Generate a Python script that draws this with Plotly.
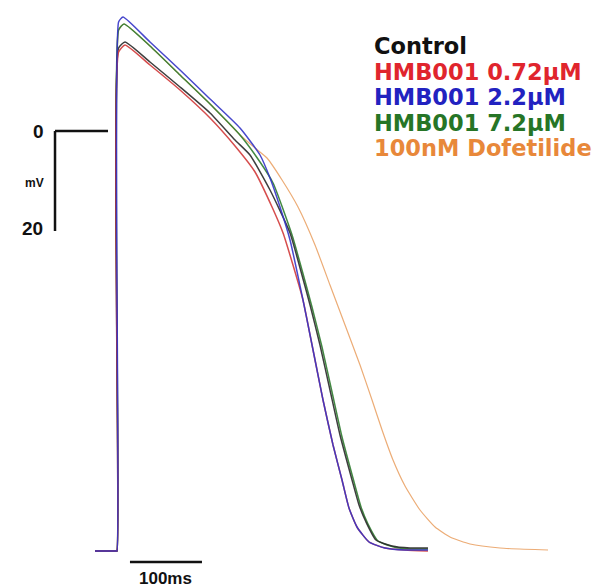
import plotly.graph_objects as go

# Action potential recordings: time (ms) vs membrane potential (mV)
ctrl_t = [-30.6, -1.4, 0, 2.2, 11.1, 45.8, 87.5, 129.2, 163.9, 184.7, 212.5, 240.3, 254.2, 268.1, 281.9,
          295.8, 309.7, 326.4, 336.1, 345.8, 359.7, 381.9, 406.9, 431.9]
ctrl_v = [-84, -84, -84, 16.6, 17.8, 13.8, 8.8, 3.6, -1.8, -4.8, -11.8, -20.4, -27.4, -34.8, -42.8,
          -51.8, -60.8, -69.8, -74.8, -78.2, -81.8, -83.0, -83.4, -83.4]

hmb072_t = [-30.6, -1.4, 0, 2.2, 11.1, 45.8, 87.5, 129.2, 163.9, 191.7, 215.3, 230.6, 244.4, 258.3, 268.1,
            276.4, 286.1, 300.0, 312.5, 322.2, 333.3, 350.0, 372.2, 400.0, 431.9]
hmb072_v = [-84, -84, -84, 15.8, 17.2, 13.2, 8.2, 2.6, -3.0, -8.2, -15.2, -20.4, -26.8, -33.8, -40.8,
            -46.8, -53.8, -62.8, -69.8, -75.4, -79.2, -82.2, -83.4, -83.8, -84.0]

hmb22_t = [-30.6, -1.4, 0, 2.2, 8.3, 45.8, 87.5, 129.2, 170.8, 198.6, 212.5, 226.4, 240.3, 258.3, 268.1,
           276.4, 286.1, 300.0, 312.5, 322.2, 333.3, 350.0, 372.2, 400.0, 431.9]
hmb22_v = [-84, -84, -84, 21.8, 22.8, 17.8, 12.2, 6.4, 0.6, -4.8, -9.4, -15.2, -21.8, -33.8, -40.8,
           -46.8, -53.8, -62.8, -69.8, -75.4, -79.2, -82.2, -83.4, -83.8, -83.8]

hmb72_t = [-30.6, -1.4, 0, 2.2, 9.7, 45.8, 87.5, 129.2, 170.8, 198.6, 216.7, 243.1, 256.9, 270.8, 284.7,
           298.6, 312.5, 329.2, 338.9, 348.6, 362.5, 384.7, 406.9, 431.9]
hmb72_v = [-84, -84, -84, 20.2, 21.4, 17.0, 11.2, 5.4, -0.8, -6.2, -10.4, -20.8, -27.8, -35.2, -43.2,
           -52.2, -61.2, -70.2, -75.2, -78.6, -82.0, -83.2, -83.6, -83.6]

dof_t = [-30.6, -1.4, 0, 2.2, 9.7, 45.8, 87.5, 129.2, 170.8, 191.7, 208.3, 229.2, 251.4, 275.0, 295.8,
         316.7, 337.5, 354.2, 368.1, 383.3, 400.0, 420.8, 441.7, 462.5, 490.3, 531.9, 598.6]
dof_v = [-84, -84, -84, 20.2, 21.4, 17.0, 11.2, 5.4, -0.8, -3.4, -5.4, -9.8, -15.2, -22.8, -30.8,
         -38.8, -46.8, -53.8, -59.8, -65.8, -71.0, -75.8, -79.2, -81.2, -82.6, -83.4, -83.8]

labels = ["Control", "HMB001 0.72\u00b5M", "HMB001 2.2\u00b5M", "HMB001 7.2\u00b5M", "100nM Dofetilide"]
line_colors = ["#2a2a2a", "#d23a3a", "#3535c8", "#2f7d2f", "#eba468"]
text_colors = ["#111111", "#e0252d", "#2222c0", "#267526", "#e8883a"]

SCALE_MV = 20
SCALE_MS = 100

series = [
    (dof_t, dof_v, 4, 1.2),
    (hmb72_t, hmb72_v, 3, 1.5),
    (ctrl_t, ctrl_v, 0, 1.5),
    (hmb072_t, hmb072_v, 1, 1.5),
    (hmb22_t, hmb22_v, 2, 1.5),
]

fig = go.Figure()
for t, v, i, w in series:
    fig.add_trace(go.Scatter(
        x=t, y=v, mode="lines", name=labels[i],
        line=dict(color=line_colors[i], width=w, shape="spline", smoothing=0.5),
        opacity=0.9, showlegend=False, hoverinfo="skip",
    ))

# scale bars
bar_x = -86.1
fig.add_shape(type="line", x0=bar_x, x1=bar_x, y0=0, y1=-SCALE_MV,
              line=dict(color="#111", width=2.5))
fig.add_shape(type="line", x0=bar_x, x1=-12.5, y0=0, y1=0,
              line=dict(color="#111", width=2.5))
fig.add_shape(type="line", x0=18, x1=18 + SCALE_MS, y0=-86.2, y1=-86.2,
              line=dict(color="#111", width=2.5))

bold = dict(family="Liberation Sans, Arial, sans-serif", color="#111", weight="bold")
fig.add_annotation(x=-109.7, y=0, text="0", showarrow=False,
                   font=dict(size=19, **bold), xanchor="center", yanchor="middle")
fig.add_annotation(x=-113.9, y=-10.4, text="mV", showarrow=False,
                   font=dict(size=12, **bold), xanchor="center", yanchor="middle")
fig.add_annotation(x=-116.7, y=-19.4, text=str(SCALE_MV), showarrow=False,
                   font=dict(size=19, **bold), xanchor="center", yanchor="middle")
fig.add_annotation(x=18 + SCALE_MS / 2, y=-89.4, text=f"{SCALE_MS}ms", showarrow=False,
                   font=dict(size=17, **bold), xanchor="center", yanchor="middle")

# legend text
legend_v = [17.0, 11.9, 6.8, 1.7, -3.4]
for lab, col, yv in zip(labels, text_colors, legend_v):
    fig.add_annotation(x=354.2, y=yv, text=lab, showarrow=False, xanchor="left", yanchor="middle",
                       font=dict(size=22.5, family="DejaVu Sans, sans-serif",
                                 color=col, weight="bold"))

fig.update_layout(
    width=608, height=587,
    margin=dict(l=0, r=0, t=0, b=0),
    paper_bgcolor="white", plot_bgcolor="white",
    xaxis=dict(range=[-162.5, 681.9], visible=False, fixedrange=True),
    yaxis=dict(range=[-91.2, 26.2], visible=False, fixedrange=True),
)

fig.write_html("out.html")
